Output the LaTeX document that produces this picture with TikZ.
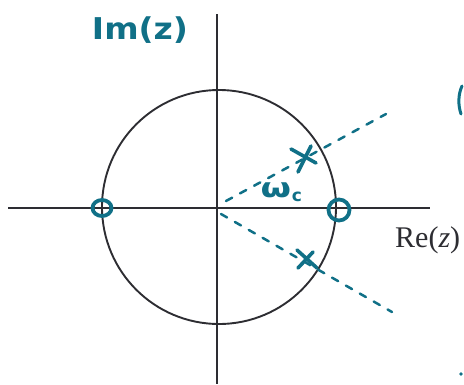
\documentclass[tikz,border=0pt]{standalone}
\usepackage{fontspec}
\usetikzlibrary{calc,shapes.geometric}
\newfontfamily\handfont{DejaVu Sans}
\newfontfamily\printfont{Liberation Serif}
\definecolor{ink}{RGB}{16,112,135}
\definecolor{axis}{RGB}{45,45,50}
\begin{document}
\begin{tikzpicture}[x=1pt,y=-1pt,
  axisline/.style={draw=axis,line width=2.4pt},
  unitcircle/.style={draw=axis,line width=1.9pt},
  zeromark/.style={ellipse,draw=ink,line width=3.8pt,inner sep=0pt},
  rayline/.style={draw=ink,line width=2.5pt,dash pattern=on 7pt off 9pt,line cap=round},
  polemark/.style={draw=ink,line width=3.6pt,line cap=round},
  handtext/.style={text=ink,font=\handfont\bfseries,inner sep=0pt}]
\useasboundingbox (0,0) rectangle (464,384);
\coordinate (O) at (219,207);
\coordinate (ytop) at (217,14);
\coordinate (ybot) at (217,384);
\coordinate (xl) at (8,208);
\coordinate (xr) at (430,208);
\draw[axisline] (ytop) -- (ybot);
\draw[axisline] (xl) -- (xr);
\draw[unitcircle] (O) circle (117);
\node[zeromark,minimum width=19pt,minimum height=16pt] (z1) at (102,208) {};
\node[zeromark,minimum width=21pt,minimum height=21pt] (z2) at (339,210) {};
\coordinate (u0) at (226,201);
\coordinate (u1) at (386,114);
\coordinate (l0) at (221,214);
\coordinate (l1) at (392,312);
\draw[rayline] (u0) -- (u1);
\draw[rayline] (l0) -- (l1);
\draw[polemark] (291,149) -- (316,163) (311,146) -- (298,172);
\draw[polemark] (297,250) -- (317,268) (313,252) -- (298,268);
\node[handtext,font=\handfont\bfseries\fontsize{27}{27}\selectfont,xscale=1.3] (om) at (276,190) {ω};
\node[handtext,font=\handfont\bfseries\fontsize{17}{17}\selectfont] (omc) at (297,197) {c};
\node[handtext,font=\handfont\bfseries\fontsize{30}{30}\selectfont,xscale=1.1] (im) at (140,30) {Im(z)};
\node[text=axis,font=\printfont\fontsize{30}{30}\selectfont,anchor=base west,inner sep=0pt] (re) at (395,247) {Re(\textit{z})};
\draw[ink,line width=3pt,line cap=round] (462,86) .. controls (458,95) and (458,105) .. (461,114);
\fill[ink] (461,374) circle (1.8);
\end{tikzpicture}
\end{document}
